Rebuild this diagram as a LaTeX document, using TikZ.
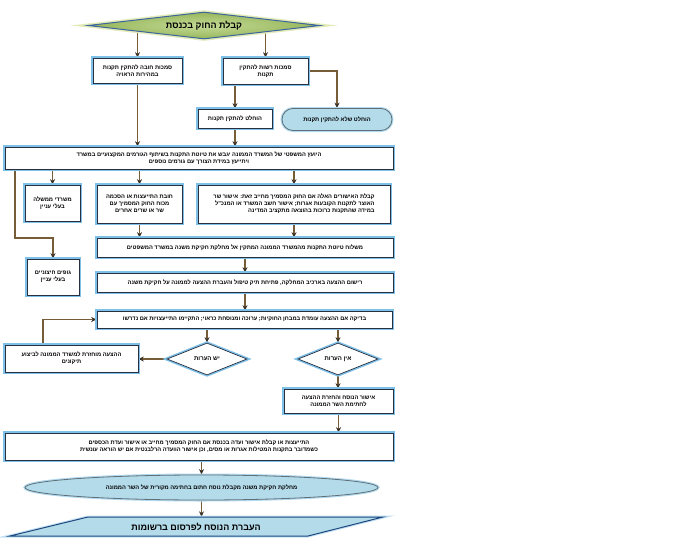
\documentclass[tikz,border=0pt]{standalone}
\usepackage{fontspec}
\newfontfamily\hebfont[Script=Hebrew]{Liberation Sans}
\TeXXeTstate=1
\usetikzlibrary{shapes.geometric,arrows.meta,backgrounds,calc}
\newcommand\hb[1]{\beginR #1\endR}
\definecolor{glowblue}{RGB}{125,192,232}
\definecolor{borderdark}{RGB}{40,48,66}
\definecolor{linebrown}{RGB}{118,92,55}
\definecolor{tipdark}{RGB}{60,50,40}
\definecolor{topgreen}{RGB}{150,182,90}
\definecolor{toplight}{RGB}{196,218,150}
\definecolor{topborder}{RGB}{62,100,160}
\definecolor{topglow}{RGB}{226,236,184}
\definecolor{paleblue}{RGB}{180,219,234}
\definecolor{paleedge}{RGB}{96,112,118}
\definecolor{paraedge}{RGB}{31,73,125}
\tikzset{
  txt/.style={font=\hebfont\bfseries\fontsize{5.7}{6.9}\selectfont, align=center, text=black},
  box/.style={txt, draw=borderdark, line width=0.7pt, fill=white,
    preaction={draw=glowblue, line width=3.5pt}, inner sep=1pt},
  smalldiam/.style={txt, shape=diamond, aspect=2.5, draw=borderdark, line width=0.7pt, fill=white,
    preaction={draw=glowblue, line width=3.5pt}, inner sep=1pt,
    minimum width=80pt, minimum height=32pt, font=\hebfont\bfseries\fontsize{6}{7}\selectfont},
  pill/.style={txt, draw=paleedge, line width=0.8pt, fill=paleblue,
    preaction={draw=glowblue!60, line width=3pt}, inner sep=1pt},
  arr/.style={draw=linebrown, line width=1.5pt, -{Stealth[length=5.5pt,width=5pt,color=tipdark]}},
}
\begin{document}
\begin{tikzpicture}[x=1pt,y=-1pt]
\begin{scope}[on background layer]
\fill[white] (0,0) rectangle (683,551);
\end{scope}
\useasboundingbox (0,0) rectangle (683,551);

% top diamond
\node[shape=diamond, aspect=8.6, minimum width=232pt, minimum height=27pt, inner sep=1pt,
  inner color=toplight, outer color=topgreen, draw=topborder, line width=1pt, preaction={draw=topglow, line width=4pt},
  font=\hebfont\bfseries\fontsize{9}{10}\selectfont] (d0) at (204,25.5) {\hb{קבלת החוק בכנסת}};

\node[box, minimum width=89pt, minimum height=25pt] (a1) at (137.5,70.5)
  {\hb{סמכות חובה להתקין תקנות}\\\hb{במהירות הראויה}};
\node[box, minimum width=85pt, minimum height=26pt] (a2) at (265.5,71)
  {\hb{סמכות רשות להתקין}\\\hb{תקנות}};
\node[box, minimum width=74pt, minimum height=19pt] (b1) at (235,118.5)
  {\hb{הוחלט להתקין תקנות}};
\node[pill, rounded corners=11pt, minimum width=110pt, minimum height=22pt] (b2) at (337,119.5)
  {\hb{הוחלט שלא להתקין תקנות}};

\node[box, minimum width=388pt, minimum height=22pt] (c) at (199,158)
  {\hb{היועץ המשפטי של המשרד הממונה יגבש את טיוטת התקנות בשיתוף הגורמים המקצועיים במשרד}\\\hb{ויתייעץ במידת הצורך עם גורמים נוספים}};

\node[box, minimum width=55pt, minimum height=36pt] (d1) at (52.5,203)
  {\hb{משרדי ממשלה}\\\hb{בעלי עניין}};
\node[box, minimum width=85pt, minimum height=38pt] (d2) at (139.5,204)
  {\hb{חובת התייעצות או הסכמה}\\\hb{מכוח החוק המסמיך עם}\\\hb{שר או שרים אחרים}};
\node[box, minimum width=192pt, minimum height=38pt, align=right] (d3) at (294,204)
  {\hb{קבלת האישורים האלה אם החוק המסמיך מחייב זאת: אישור שר}\\\hb{האוצר לתקנות הקובעות אגרות; אישור חשב המשרד או המנכ"ל}\\\hb{במידה שהתקנות כרוכות בהוצאה מתקציב המדינה}};

\node[box, minimum width=52pt, minimum height=36pt] (e) at (53,277)
  {\hb{גופים חיצוניים}\\\hb{בעלי עניין}};

\node[box, minimum width=296pt, minimum height=19pt] (f) at (245,247.5)
  {\hb{משלוח טיוטת התקנות  מהמשרד הממונה המתקין אל מחלקת חקיקת משנה במשרד המשפטים}};
\node[box, minimum width=296pt, minimum height=19pt] (g) at (245,282.5)
  {\hb{רישום ההצעה בארכיב המחלקה, פתיחת תיק טיפול והעברת ההצעה לממונה על חקיקת משנה}};
\node[box, minimum width=295pt, minimum height=17pt] (h) at (244.5,319.5)
  {\hb{בדיקה אם ההצעה  עומדת במבחן החוקיות; ערוכה ומנוסחת כראוי; התקיימו התייעצויות אם נדרשו}};

\node[smalldiam] (i1) at (207,359) {\hb{יש הערות}};
\node[smalldiam] (i2) at (338,359) {\hb{אין הערות}};

\node[box, minimum width=133pt, minimum height=27pt] (j) at (71.5,358.5)
  {\hb{ההצעה מוחזרת למשרד הממונה  לביצוע}\\\hb{תיקונים}};
\node[box, minimum width=109pt, minimum height=24pt] (k) at (338.5,401)
  {\hb{אישור הנוסח והחזרת ההצעה}\\\hb{לחתימת השר הממונה}};

\node[box, minimum width=388pt, minimum height=27pt] (l) at (199,446.5)
  {\hb{התייעצות או קבלת אישור ועדה בכנסת אם החוק המסמיך מחייב או אישור ועדת הכספים}\\\hb{כשמדובר בתקנות המטילות אגרות או מסים, וכן אישור הוועדה הרלבנטית אם יש הוראה עונשית}};

\node[pill, shape=ellipse, minimum width=353pt, minimum height=25pt] (m) at (201.5,487.5)
  {\hb{מחלקת חקיקת משנה מקבלת נוסח חתום בחתימה מקורית של השר הממונה}};

% parallelogram
\filldraw[fill=paleblue, draw=paraedge, line width=1pt, preaction={draw=glowblue!50, line width=3pt}]
  (10,536) -- (88,517) -- (383,517) -- (308,536) -- cycle;
\node[txt, minimum height=19pt, inner sep=0pt, font=\hebfont\bfseries\fontsize{9}{10}\selectfont] (n) at (196,526.5)
  {\hb{העברת הנוסח לפרסום ברשומות}};

\coordinate (ce) at (15,238);
\coordinate (jx) at (43,0);

\begin{scope}[on background layer]
\draw[arr] (d0.south west -| a1.north) -- (a1.north);
\draw[arr] (d0.south east -| a2.north) -- (a2.north);
\draw[arr] (b1.north |- a2.south) -- (b1.north);
\draw[arr] (a2.east) -| (b2.north);
\draw[arr] (a1.south) -- (a1.south |- c.north);
\draw[arr] (b1.south) -- (b1.south |- c.north);
\draw[arr] (d1.north |- c.south) -- (d1.north);
\draw[arr] (d2.north |- c.south) -- (d2.north);
\draw[arr] (d3.north |- c.south) -- (d3.north);
\draw[arr] (c.south -| ce) -- (ce) -| (e.north);
\draw[arr] (d2.south) -- (d2.south |- f.north);
\draw[arr] (d3.south) -- (d3.south |- f.north);
\draw[arr] (f.south) -- (f.south |- g.north);
\draw[arr] (g.south) -- (g.south |- h.north);
\draw[arr] (i1.north |- h.south) -- (i1.north);
\draw[arr] (i2.north |- h.south) -- (i2.north);
\draw[arr] (i1.west) -- (i1.west -| j.east);
\draw[arr] (jx |- j.north) |- (h.west);
\draw[arr] (i2.south) -- (i2.south |- k.north);
\draw[arr] (k.south) -- (k.south |- l.north);
\draw[arr] (m.north |- l.south) -- (m.north);
\draw[arr] (m.south) -- (m.south |- n.north);
\end{scope}
\end{tikzpicture}
\end{document}
